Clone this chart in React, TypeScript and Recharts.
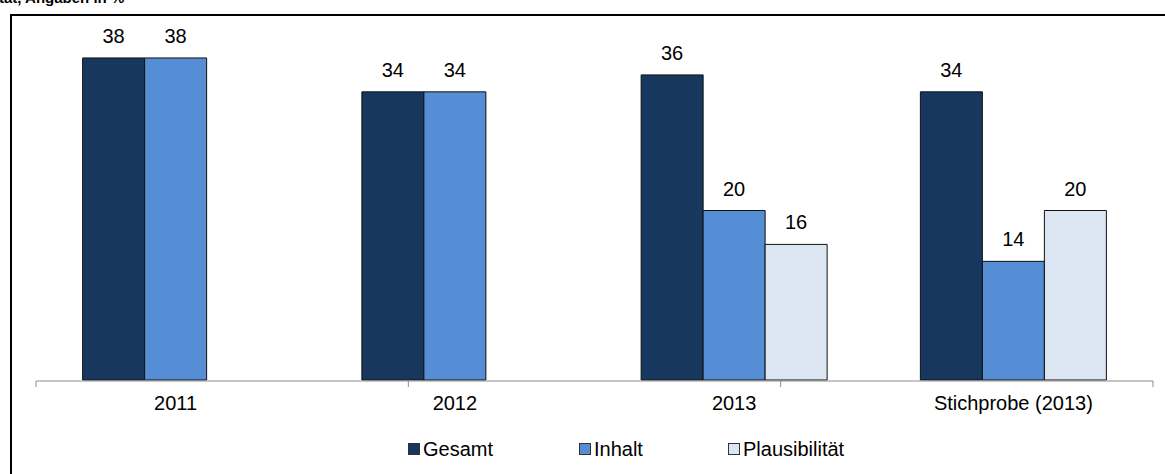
import React from 'react';
import { BarChart, Bar, XAxis, YAxis, LabelList, Legend } from 'recharts';

const categories = ['2011', '2012', '2013', 'Stichprobe (2013)'];
const gesamt = [38, 34, 36, 34];
const inhalt = [38, 34, 20, 14];
const plausibilitaet: (number | null)[] = [null, null, 16, 20];
const seriesNames = ['Gesamt', 'Inhalt', 'Plausibilität'];
const seriesColors = ['#17375E', '#558ED5', '#DCE6F2'];
const edgeTicks = [0, 1, 2, 3, 4];
const titleText = 'tät, Angaben in %';

const data = categories.map((c, i) => ({
  cat: c,
  gesamt: gesamt[i],
  inhalt: inhalt[i],
  plaus: plausibilitaet[i],
}));

const FONT = '"Liberation Sans", Arial, sans-serif';

const LegendContent = (props: any) => {
  const payload = props.payload || [];
  const widths = [171, 149, 200];
  return (
    <div style={{ display: 'flex', alignItems: 'center', height: 30, paddingLeft: 408, fontFamily: FONT, fontSize: 20, color: '#000' }}>
      {payload.map((p: any, i: number) => (
        <div key={i} style={{ display: 'flex', alignItems: 'center', width: widths[i] }}>
          <span style={{ display: 'inline-block', width: 10, height: 10, background: p.color, border: '1px solid #333', marginRight: 3 }} />
          <span>{p.value}</span>
        </div>
      ))}
    </div>
  );
};

export default function App() {
  const keys = ['gesamt', 'inhalt', 'plaus'];
  return (
    <div style={{ position: 'absolute', left: 0, top: 0, width: 1165, height: 474, overflow: 'hidden', background: '#fff' }}>
      <div style={{ position: 'absolute', left: -1, top: -11, fontFamily: FONT, fontWeight: 'bold', fontSize: 15, whiteSpace: 'nowrap', color: '#000' }}>{titleText}</div>
      <div style={{ position: 'absolute', left: 10, top: 14, width: 2000, height: 1000, border: '2px solid #000', boxSizing: 'border-box' }} />
      <div style={{ position: 'absolute', left: 0, top: 0 }}>
        <BarChart width={1165} height={474} data={data} margin={{ top: 41, right: 12, left: 36, bottom: 62 }} barCategoryGap="16.7%" barGap={0}>
          <XAxis xAxisId="edge" type="number" domain={[0, 4]} ticks={edgeTicks} allowDataOverflow tick={{ fill: 'transparent', fontSize: 1 }} tickFormatter={() => ''} axisLine={{ stroke: '#8c8c8c' }} tickLine={{ stroke: '#8c8c8c' }} tickSize={6} height={1} />
          <XAxis dataKey="cat" height={1} tickLine={false} axisLine={false} tickSize={6} tickMargin={10} tick={{ fontFamily: FONT, fontSize: 20, fill: '#000' }} interval={0} />
          <YAxis hide domain={[0, 40]} />
          <Legend verticalAlign="bottom" content={<LegendContent />} wrapperStyle={{ left: 0, top: 434, width: 1165 }} />
          {keys.map((k, i) => (
            <Bar key={k} dataKey={k} name={seriesNames[i]} fill={seriesColors[i]} stroke="#111" strokeWidth={1} isAnimationActive={false}>
              <LabelList dataKey={k} position="top" offset={15} style={{ fontFamily: FONT, fontSize: 20, fill: '#000' }} />
            </Bar>
          ))}
        </BarChart>
      </div>
    </div>
  );
}
